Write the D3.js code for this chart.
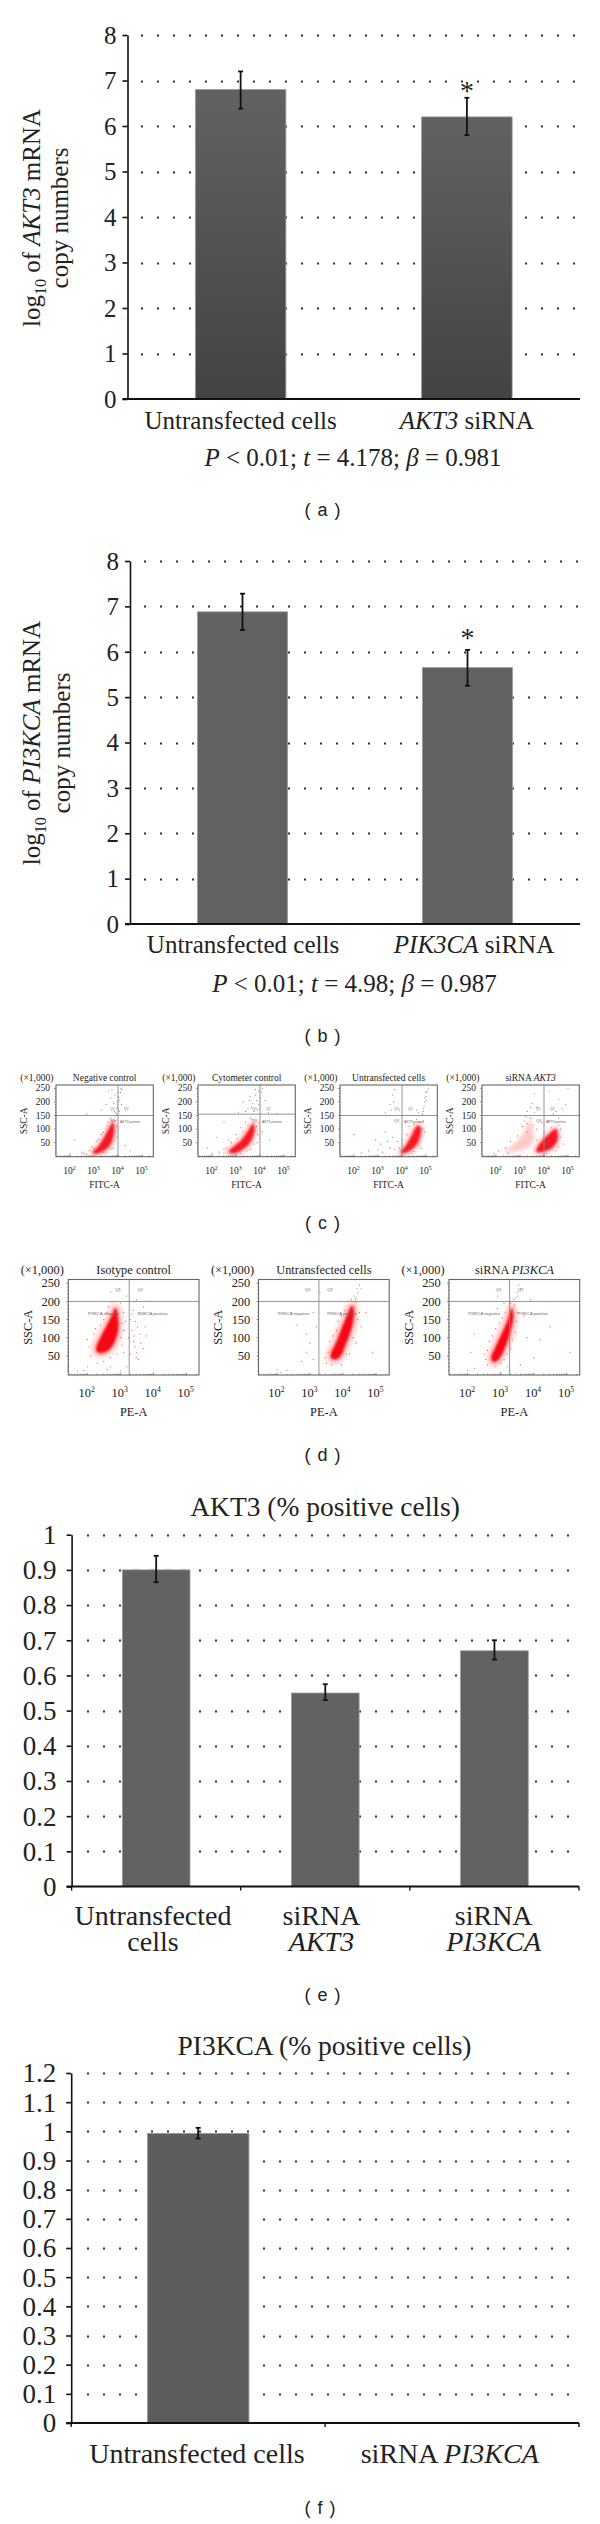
<!DOCTYPE html>
<html><head><meta charset="utf-8">
<script src="https://cdnjs.cloudflare.com/ajax/libs/d3/7.8.5/d3.min.js"></script>
<style>html,body{margin:0;padding:0;background:#fff}svg{display:block}text{font-family:"Liberation Serif",serif;fill:#222}</style>
</head><body><svg id="c" width="600" height="2524"></svg>
<script>
// ---- bar chart data ----
const aCats=["Untransfected cells","*AKT3* siRNA"], aVals=[6.8,6.2], aHi=[7.2,6.62], aLo=[6.38,5.8];
const bCats=["Untransfected cells","*PIK3CA* siRNA"], bVals=[6.88,5.65], bHi=[7.28,6.04], bLo=[6.48,5.25];
const eCats=[["Untransfected","cells"],["siRNA","*AKT3*"],["siRNA","*PI3KCA*"]], eVals=[0.9,0.55,0.67], eHi=[0.94,0.575,0.70], eLo=[0.865,0.53,0.645];
const fCats=[["Untransfected cells"],["siRNA *PI3KCA*"]], fVals=[0.993,0.002], fHi=[1.012,null], fLo=[0.975,null];
const ticks8=[0,1,2,3,4,5,6,7,8];
const ticks1=[0,0.1,0.2,0.3,0.4,0.5,0.6,0.7,0.8,0.9,1];
const ticks12=[0,0.1,0.2,0.3,0.4,0.5,0.6,0.7,0.8,0.9,1,1.1,1.2];
// ---- flow cytometry panels: [log10 signal, SSC] ----
const cTitles=["Negative control","Cytometer control","Untransfected cells","siRNA *AKT3*"];
const dTitles=["Isotype control","Untransfected cells","siRNA *PI3KCA*"];
const c1Core=[[2.95,14],[3.2,38],[3.42,68],[3.62,100],[3.8,125],[3.82,85],[3.7,48],[3.46,24],[3.08,10]];
const c2Core=[[2.7,17],[2.95,38],[3.24,60],[3.52,95],[3.72,120],[3.76,90],[3.58,52],[3.28,26],[2.9,12]];
const c3Core=[[3.95,14],[4.19,42],[4.42,78],[4.65,112],[4.78,105],[4.65,50],[4.33,22],[4.02,11]];
const c4Core=[[3.68,22],[3.85,48],[4.2,80],[4.5,100],[4.55,58],[4.3,30],[3.95,18],[3.72,16]];
const c4Haze=[[2.31,17],[2.72,42],[3.14,85],[3.42,134],[3.56,60],[3.28,29],[2.72,17]];
const d1Core=[[2.27,72],[2.4,100],[2.6,135],[2.74,160],[2.86,182],[2.93,155],[2.93,120],[2.8,84],[2.62,64],[2.38,58],[2.29,62]];
const d2Core=[[3.64,57],[3.78,84],[3.96,125],[4.14,165],[4.27,188],[4.33,172],[4.27,130],[4.08,82],[3.9,47],[3.72,40],[3.64,45]];
const d3Core=[[2.72,45],[2.85,75],[3.03,110],[3.2,145],[3.34,182],[3.38,160],[3.3,120],[3.15,78],[2.93,40],[2.76,34]];
const c1Gray=[[3.9,160],[3.95,175],[4.0,190],[4.05,205],[4.02,220],[4.1,235],[4.12,250],[3.98,200],[3.85,165],[3.7,215],[3.6,240],[3.5,190],[3.3,170],[2.7,155],[4.15,190],[3.92,150],[4.05,165],[4.0,235],[4.08,215],[3.96,180],[4.02,172],[3.82,195],[3.75,245],[4.15,245],[3.88,225],[3.94,155]];
const c1Red=[[2.5,15],[2.7,8],[2.9,35],[3.1,55],[3.3,80],[3.5,100],[3.6,125],[3.75,130],[3.95,110],[3.95,70],[3.8,30],[3.5,12],[2.2,60],[4.3,40],[4.5,20],[2.0,8],[2.8,20],[3.0,30],[3.2,62],[3.4,88],[3.55,112],[3.7,140],[3.9,130],[3.9,90],[3.85,60],[3.7,28],[3.4,14],[2.6,10]];
const c2Gray=[[3.9,170],[3.95,190],[4.0,215],[4.1,250],[4.05,235],[3.7,195],[3.6,220],[3.8,245],[3.5,175],[3.3,200],[4.2,205],[4.35,160],[3.1,160],[2.5,125],[4.7,155],[3.75,165],[3.85,205],[3.65,180],[3.95,240],[3.55,205],[4.0,175],[3.4,165],[3.82,225]];
const c2Red=[[2.3,15],[2.5,25],[2.7,60],[3.0,80],[3.2,105],[3.4,125],[3.6,140],[3.95,125],[4.1,90],[3.9,50],[3.6,25],[3.2,10],[2.0,10],[1.8,30],[2.2,70],[4.4,60],[2.6,30],[2.8,50],[3.05,65],[3.3,90],[3.5,115],[3.7,135],[3.85,110],[3.9,80],[3.75,45],[3.45,20],[3.0,8],[2.5,12]];
const c3Gray=[[3.5,190],[3.6,225],[3.7,245],[3.9,170],[4.6,170],[4.7,160],[4.9,175],[4.95,200],[5.0,220],[5.1,250],[5.0,235],[4.85,155],[4.4,150],[3.3,160],[4.92,185],[5.02,205],[4.88,165],[5.05,240],[4.95,215],[3.55,170],[3.65,200]];
const c3Red=[[2.6,20],[2.9,60],[3.1,45],[3.3,90],[3.5,30],[3.6,70],[3.7,25],[3.8,55],[2.3,12],[4.0,60],[4.3,110],[4.6,135],[4.9,130],[4.95,90],[4.8,30],[4.4,10],[2.0,80],[3.2,15],[4.2,80],[4.5,118],[4.75,125],[4.85,100],[4.8,70],[4.7,40],[4.5,18],[3.9,30],[3.0,25],[3.4,55]];
const c4Gray=[[3.3,165],[3.5,195],[3.6,230],[3.4,150],[3.2,130],[3.7,180],[4.5,165],[4.7,150],[4.9,190],[4.6,210],[5.0,250],[4.2,240],[4.4,155],[3.85,150],[3.45,180],[3.25,145],[3.6,160],[4.6,140],[4.75,175]];
const c4Red=[[2.1,20],[2.4,30],[2.6,55],[2.9,75],[3.1,110],[3.3,90],[3.55,115],[3.7,100],[3.9,125],[4.2,130],[4.7,100],[4.8,45],[4.5,20],[4.1,10],[1.9,10],[2.5,12],[4.0,90],[4.3,105],[4.6,115],[4.7,70],[4.6,35],[3.7,60],[3.3,120],[3.45,140]];
const d1Gray=[[2.7,225],[3.2,215],[3.5,205],[2.0,20],[2.3,30],[1.9,10],[1.7,8],[3.7,185],[2.6,12],[3.0,8]];
const d1Red=[[2.1,50],[2.05,75],[2.2,110],[2.4,135],[2.6,170],[2.75,198],[2.85,200],[3.1,170],[3.1,120],[3.05,80],[2.9,55],[2.5,35],[2.7,20],[3.3,150],[3.35,120],[3.4,90],[3.5,60],[3.55,40],[3.3,55],[3.45,145],[3.6,165],[3.75,130],[3.8,105],[3.2,20],[3.25,100],[3.45,75],[2.0,95],[3.9,200],[3.05,140],[3.0,195],[3.15,145],[3.02,100],[3.1,60],[2.7,45],[2.25,125],[2.5,150],[2.65,185],[3.38,175],[3.42,105],[3.52,130],[3.62,85],[3.48,45],[3.35,165],[3.6,110],[3.7,70]];
const d2Gray=[[4.4,210],[4.45,225],[4.5,245],[4.35,215],[4.55,235],[2.6,135],[2.0,12],[2.1,5],[2.3,10],[3.3,225],[4.42,235],[4.38,205]];
const d2Red=[[3.5,30],[3.55,60],[3.6,90],[3.8,120],[3.95,160],[4.25,205],[4.5,170],[4.55,130],[4.4,85],[4.2,55],[3.95,25],[4.7,170],[2.9,60],[3.0,85],[2.9,110],[3.1,40],[2.75,35],[3.2,130],[3.1,170],[4.9,60],[4.4,198],[4.35,185],[4.45,150],[4.3,100],[4.1,55],[3.7,105],[3.85,145],[4.05,175],[3.45,45],[3.65,25]];
const d3Gray=[[3.5,225],[3.55,245],[3.45,210],[3.6,235],[2.9,215],[2.2,15],[2.6,25],[3.9,205],[4.4,200],[2.0,10],[3.0,5],[3.2,20],[3.52,215],[3.4,205]];
const d3Red=[[2.55,40],[2.5,55],[2.65,90],[2.85,125],[3.05,155],[3.3,195],[3.5,170],[3.45,115],[3.3,70],[3.1,40],[2.85,20],[2.1,60],[2.2,110],[2.9,180],[3.1,195],[3.8,100],[4.2,95],[4.5,130],[5.1,60],[4.0,45],[3.6,25],[3.7,160],[3.42,190],[3.48,145],[3.35,95],[3.2,55],[3.0,30],[2.6,65],[2.75,105],[2.95,140],[3.15,170]];

const svg=d3.select("#c");
const defs=svg.append("defs");
defs.append("filter").attr("id","soft").attr("x","-20%").attr("y","-20%").attr("width","140%").attr("height","140%").append("feGaussianBlur").attr("stdDeviation",0.8);
defs.append("filter").attr("id","softer").attr("x","-30%").attr("y","-30%").attr("width","160%").attr("height","160%").append("feGaussianBlur").attr("stdDeviation",2);
const grad=defs.append("linearGradient").attr("id","gradA").attr("x1",0).attr("x2",0).attr("y1",0).attr("y2",1);
grad.append("stop").attr("offset",0).attr("stop-color","#626262");
grad.append("stop").attr("offset",1).attr("stop-color","#434343");

function rich(sel,str){
  sel.selectAll("tspan.r").data(str.split("*")).join("tspan").attr("class","r")
    .attr("font-style",(d,i)=>i%2?"italic":"normal").text(d=>d);
  return sel;
}
function panelLabel(t,x,y){
  svg.append("text").attr("x",x).attr("y",y).attr("text-anchor","middle")
    .style("font-family","'Liberation Sans',sans-serif").attr("font-size",18).attr("word-spacing",2).text(t);
}
function barChart(o){
  const x=d3.scaleBand().domain(o.cats.map((d,i)=>i)).range([o.x0,o.x1]).paddingInner(0.6).paddingOuter(0.3);
  const y=d3.scaleLinear().domain(o.domain).range([o.y0,o.y1]);
  const g=svg.append("g");
  g.append("g").selectAll("line").data(o.ticks.filter(d=>d>0)).join("line")
    .attr("x1",o.gridStart).attr("x2",o.x1).attr("y1",d=>Math.round(y(d))+.5).attr("y2",d=>Math.round(y(d))+.5)
    .attr("stroke","#333").attr("stroke-width",2).attr("stroke-dasharray","2 14");
  g.append("g").selectAll("rect").data(o.vals).join("rect")
    .attr("x",(d,i)=>x(i)).attr("width",x.bandwidth()).attr("y",d=>y(d)).attr("height",d=>o.y0-y(d))
    .attr("fill",o.fill).attr("stroke","#9a9a9a").attr("stroke-width",.8);
  const eb=g.append("g").attr("stroke","#111").attr("stroke-width",1.8);
  o.vals.forEach((v,i)=>{
    if(o.hi[i]==null)return;
    const cx=x(i)+x.bandwidth()/2;
    eb.append("line").attr("x1",cx).attr("x2",cx).attr("y1",y(o.hi[i])).attr("y2",y(o.lo[i]));
    [o.hi[i],o.lo[i]].forEach(e=>eb.append("line").attr("x1",cx-2.5).attr("x2",cx+2.5).attr("y1",y(e)).attr("y2",y(e)));
  });
  const ax=g.append("g").attr("transform",`translate(${o.x0},0)`)
    .call(d3.axisLeft(y).tickValues(o.ticks).tickSize(5).tickSizeOuter(0).tickPadding(o.tickPad).tickFormat(d3.format("~g")));
  ax.selectAll("text").attr("font-size",o.tickFont).style("font-family","'Liberation Serif',serif").attr("fill","#222").attr("dy","0.33em");
  ax.selectAll("line,path").attr("stroke","#111").attr("stroke-width",1.6);
  g.append("line").attr("x1",o.x0-5).attr("x2",o.x1).attr("y1",o.y0).attr("y2",o.y0).attr("stroke","#111").attr("stroke-width",1.8);
  if(o.xTicks){
    const step=x.step();
    g.append("g").selectAll("line").data(d3.range(o.cats.length+1)).join("line")
      .attr("x1",d=>o.x0+d*step).attr("x2",d=>o.x0+d*step).attr("y1",o.y0).attr("y2",o.y0+4).attr("stroke","#111").attr("stroke-width",1.4);
  }
  o.cats.forEach((c,i)=>{
    const lines=Array.isArray(c)?c:[c];
    lines.forEach((l,j)=>{
      rich(g.append("text").attr("x",o.catX?o.catX[i]:x(i)+x.bandwidth()/2).attr("y",o.catY+j*o.catLine).attr("text-anchor","middle").attr("font-size",o.catFont),l);
    });
  });
  if(o.title) g.append("text").attr("x",o.titleX).attr("y",o.titleY).attr("text-anchor","middle").attr("font-size",o.titleFont).text(o.title);
  if(o.star!=null) g.append("text").attr("x",x(1)+x.bandwidth()/2).attr("y",y(o.hi[1])-o.star).attr("text-anchor","middle").attr("font-size",28).text("*");
  return g;
}
function yTitle(gene,xa,xb,cy){
  const t=svg.append("text").attr("transform",`translate(${xa},${cy}) rotate(-90)`).attr("text-anchor","middle").attr("font-size",25);
  t.append("tspan").text("log");
  t.append("tspan").attr("font-size",16).attr("dy",6).text("10");
  t.append("tspan").attr("dy",-6).text(" of ");
  t.append("tspan").attr("font-style","italic").text(gene);
  t.append("tspan").text(" mRNA");
  svg.append("text").attr("transform",`translate(${xb},${cy}) rotate(-90)`).attr("text-anchor","middle").attr("font-size",25).text("copy numbers");
}
function stat(str,x,y){
  rich(svg.append("text").attr("x",x).attr("y",y).attr("text-anchor","middle").attr("font-size",25),str);
}
barChart({cats:aCats,vals:aVals,hi:aHi,lo:aLo,domain:[0,8],ticks:ticks8,x0:127.5,x1:580,y0:399,y1:35,gridStart:141,fill:"url(#gradA)",tickPad:6,tickFont:25,catY:429,catLine:0,catFont:25,star:-2});
yTitle("AKT3",40,68,218);
stat("*P* < 0.01; *t* = 4.178; *β* = 0.981",353,466);
panelLabel("( a )",322.5,516);
barChart({cats:bCats,vals:bVals,hi:bHi,lo:bLo,domain:[0,8],ticks:ticks8,x0:130,x1:580,y0:924,y1:561,gridStart:144,fill:"#626262",tickPad:6,tickFont:25,catY:953,catLine:0,catFont:25,catX:[243,474],star:3});
yTitle("PI3KCA",40,70,743);
stat("*P* < 0.01; *t* = 4.98; *β* = 0.987",354.5,992);
panelLabel("( b )",322.5,1042);

function flow(o){
  const g=svg.append("g");
  const x=d3.scaleLinear().domain([2,3]).range([o.p100,o.p100+o.dec]);
  const y=d3.scaleLinear().domain([0,250]).range([o.y0,o.y250]);
  const line=d3.line().x(d=>x(d[0])).y(d=>y(d[1])).curve(d3.curveCatmullRomClosed);
  const clip="clip"+o.id;
  defs.append("clipPath").attr("id",clip).append("rect").attr("x",o.left).attr("y",o.top).attr("width",o.w).attr("height",o.h);
  const p=g.append("g").attr("clip-path",`url(#${clip})`);
  (o.haze||[]).forEach(h=>p.append("path").attr("d",line(h)).attr("fill","#f00").attr("fill-opacity",.22).attr("filter","url(#softer)"));
  p.append("path").attr("d",line(o.core)).attr("fill","#f00").attr("fill-opacity",.3).attr("stroke","#f00").attr("stroke-opacity",.22).attr("stroke-width",o.halo).attr("filter","url(#softer)");
  p.append("path").attr("d",line(o.core)).attr("fill","#f4000a").attr("fill-opacity",o.coreOp).attr("filter","url(#soft)");
  p.selectAll("circle.r").data(o.red).join("circle").attr("class","r").attr("cx",d=>x(d[0])).attr("cy",d=>y(d[1])).attr("r",.6).attr("fill","#f44");
  p.selectAll("circle.g").data(o.gray).join("circle").attr("class","g").attr("cx",d=>x(d[0])).attr("cy",d=>y(d[1])).attr("r",.55).attr("fill","#777");
  g.append("line").attr("x1",o.left).attr("x2",o.left+o.w).attr("y1",y(o.hGate)).attr("y2",y(o.hGate)).attr("stroke","#888").attr("stroke-width",.9);
  g.append("line").attr("x1",x(o.vGate)).attr("x2",x(o.vGate)).attr("y1",o.top).attr("y2",o.top+o.h).attr("stroke","#888").attr("stroke-width",.9);
  g.append("rect").attr("x",o.left).attr("y",o.top).attr("width",o.w).attr("height",o.h).attr("fill","none").attr("stroke","#666").attr("stroke-width",1.1);
  const minor=[];[1,2,3,4,5].forEach(d=>[1,2,3,4,5,6,7,8,9].forEach(m=>{const v=d+Math.log10(m);if(x(v)>o.left&&x(v)<o.left+o.w)minor.push([v,m]);}));
  g.selectAll("line.mx").data(minor).join("line").attr("class","mx").attr("x1",d=>x(d[0])).attr("x2",d=>x(d[0])).attr("y1",o.top+o.h).attr("y2",d=>o.top+o.h-(d[1]==1?2.2:1.2)).attr("stroke","#444").attr("stroke-width",.6);
  g.selectAll("line.my").data(d3.range(10,260,10)).join("line").attr("class","my").attr("x1",o.left).attr("x2",d=>o.left-(d%50?1:2)).attr("y1",d=>y(d)).attr("y2",d=>y(d)).attr("stroke","#444").attr("stroke-width",.6);
  const fs=o.font;
  g.selectAll("text.yt").data([50,100,150,200,250]).join("text").attr("class","yt").attr("x",o.left-o.dec*.25).attr("y",d=>y(d)+fs*.33).attr("text-anchor","end").attr("font-size",fs).text(d=>d);
  [2,3,4,5].forEach(d=>{
    const t=g.append("text").attr("x",x(d)-fs*.05).attr("y",o.tickY).attr("text-anchor","middle").attr("font-size",fs);
    t.append("tspan").text("10");
    t.append("tspan").attr("font-size",fs*.62).attr("dy",-fs*.38).text(d);
  });
  g.append("text").attr("x",o.left+o.w/2).attr("y",o.labY).attr("text-anchor","middle").attr("font-size",fs).text(o.xLab);
  g.append("text").attr("transform",`translate(${o.left-o.sscOff},${(o.top+o.h/2)}) rotate(-90)`).attr("text-anchor","middle").attr("font-size",fs).text("SSC-A");
  g.append("text").attr("x",o.left-fs*.45).attr("y",o.titleY).attr("text-anchor","middle").attr("font-size",fs).attr("dx",-o.dec*.62).text("(×1,000)");
  rich(g.append("text").attr("x",o.left+o.w/2).attr("y",o.titleY).attr("text-anchor","middle").attr("font-size",fs),o.title);
  o.caps.forEach(c=>g.append("text").attr("x",x(c[1])).attr("y",y(c[2])).attr("font-size",o.capFont).style("font-family","'Liberation Sans',sans-serif").style("fill","#666").text(c[0]));
}
const cTop=1085,cH=71.7,cW=97.3;
const cCaps=g=>[["Q1",g-0.32,170],["Q2",g+0.25,170],["Q3",g-0.32,125],["AKT3 protein",g+0.08,122]];
const cCommon={top:cTop,h:cH,w:cW,dec:24,y0:1156.3,y250:1088.3,font:9.5,tickY:1174,labY:1187.5,titleY:1080.5,xLab:"FITC-A",capFont:3.4,halo:6,coreOp:.85,sscOff:29};
flow({...cCommon,id:"c1",left:56,p100:70,hGate:150,vGate:4,core:c1Core,red:c1Red,gray:c1Gray,title:cTitles[0],caps:cCaps(4)});
flow({...cCommon,id:"c2",left:198,p100:212,hGate:155,vGate:4,core:c2Core,red:c2Red,gray:c2Gray,title:cTitles[1],caps:cCaps(4)});
flow({...cCommon,id:"c3",left:340,p100:354,hGate:150,vGate:4,core:c3Core,red:c3Red,gray:c3Gray,title:cTitles[2],caps:cCaps(4)});
flow({...cCommon,id:"c4",left:482,p100:496,hGate:150,vGate:4,core:c4Core,haze:[c4Haze],red:c4Red,gray:c4Gray,title:cTitles[3],caps:cCaps(4)});
panelLabel("( c )",322.5,1229);
const dCaps=g=>[["Q1",g-0.42,228],["Q2",g+0.25,228],["PI3KCA negative",g-1.25,162],["PI3KCA positive",g+0.25,162]];
const dCommon={top:1279.5,h:95.5,w:130.7,dec:33,y0:1374,y250:1283.3,font:12.4,tickY:1397,labY:1416,titleY:1274,xLab:"PE-A",capFont:4.2,halo:9,coreOp:.95,sscOff:36.5};
flow({...dCommon,id:"d1",left:68.3,p100:87.3,hGate:200,vGate:3.27,core:d1Core,red:d1Red,gray:d1Gray,title:dTitles[0],caps:dCaps(3.27)});
flow({...dCommon,id:"d2",left:258.5,p100:277,hGate:200,vGate:3.27,core:d2Core,red:d2Red,gray:d2Gray,title:dTitles[1],caps:dCaps(3.27)});
flow({...dCommon,id:"d3",left:449,p100:467.7,hGate:200,vGate:3.27,core:d3Core,red:d3Red,gray:d3Gray,title:dTitles[2],caps:dCaps(3.27)});
panelLabel("( d )",322.5,1461);
barChart({cats:eCats,vals:eVals,hi:eHi,lo:eLo,domain:[0,1],ticks:ticks1,x0:71.6,x1:579,y0:1886.5,y1:1534.7,gridStart:87,fill:"#626262",tickPad:10,tickFont:27,catY:1925,catLine:26,catFont:28,catX:[153,321.5,493.7],xTicks:true,title:"AKT3 (% positive cells)",titleX:325,titleY:1515.5,titleFont:27.5});
panelLabel("( e )",322.5,2001);
barChart({cats:fCats,vals:fVals,hi:fHi,lo:fLo,domain:[0,1.2],ticks:ticks12,x0:71.2,x1:579,y0:2423,y1:2073,gridStart:87,fill:"#5c5c5c",tickPad:10,tickFont:27,catY:2463,catLine:26,catFont:28,catX:[197,449.7],xTicks:true,title:"PI3KCA (% positive cells)",titleX:324.5,titleY:2055,titleFont:27.5});
panelLabel("( f )",320,2514);
</script></body></html>
